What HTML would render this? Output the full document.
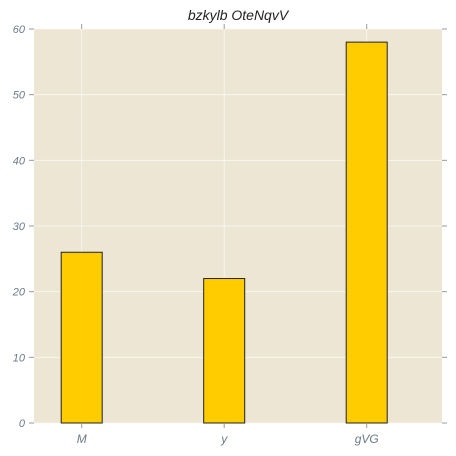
<!DOCTYPE html>
<html><head><meta charset="utf-8"><style>
html,body{margin:0;padding:0;background:#fff;width:456px;height:456px;overflow:hidden}
text{font-family:"Liberation Sans",sans-serif}
</style></head><body>
<svg id="chart" width="456" height="456" xmlns="http://www.w3.org/2000/svg">
<rect x="34" y="29" width="408" height="394" fill="#ede6d5"/>
<g id="grid"></g>
<g id="bars"></g>
<g id="axes"></g>
<text x="238" y="20" text-anchor="middle" font-size="14" font-style="italic" fill="#222">bzkylb OteNqvV</text>
</svg>
<script>
const categories = ["M", "y", "gVG"];
const values = [26, 22, 58];
const yTicks = [0, 10, 20, 30, 40, 50, 60];

const L = 34, R = 442, T = 29, B = 423;
const yMax = 60;
function y(v){ return B - (v / yMax) * (B - T); }
const step = 142.5, first = 81.7, barW = 41;
function x(i){ return first + i * step; }
const NS = "http://www.w3.org/2000/svg";
function mk(tag, attrs, parent){
  const e = document.createElementNS(NS, tag);
  for (const k in attrs) e.setAttribute(k, attrs[k]);
  parent.appendChild(e);
  return e;
}
const grid = document.getElementById('grid');
const bars = document.getElementById('bars');
const axes = document.getElementById('axes');
yTicks.forEach(t => {
  const yy = y(t);
  const g = mk('line', {x1: L, x2: R, y1: yy, y2: yy, stroke: '#fbf8f2', 'stroke-width': 0.8}, grid);
  
  
  const tl = mk('line', {x1: L - 5, x2: L, y1: yy, y2: yy, stroke: '#999'}, axes);
  
  
  const tr = mk('line', {x1: R, x2: R + 5, y1: yy, y2: yy, stroke: '#999'}, axes);
  
  
  const lb = mk('text', {x: L - 9, y: yy + 4, 'text-anchor': 'end', 'font-size': 11, 'font-style': 'italic', fill: '#6b7a88'}, axes);
  lb.textContent = t;
  
  
});
categories.forEach((c, i) => {
  const cx = x(i);
  const g = mk('line', {x1: cx, x2: cx, y1: T, y2: B, stroke: '#fbf8f2', 'stroke-width': 0.8}, grid);
  
  
  const b = mk('rect', {x: cx - barW / 2, y: y(values[i]), width: barW, height: B - y(values[i]), fill: '#ffcc00', stroke: '#222', 'stroke-width': 1}, bars);
  
  
  const tb = mk('line', {x1: cx, x2: cx, y1: B, y2: B + 5, stroke: '#999'}, axes);
  
  
  const tt = mk('line', {x1: cx, x2: cx, y1: T - 5, y2: T, stroke: '#999'}, axes);
  
  
  const lb = mk('text', {x: cx, y: B + 20, 'text-anchor': 'middle', 'font-size': 12, 'font-style': 'italic', fill: '#6b7a88'}, axes);
  lb.textContent = c;
  
  
});
</script>
</body></html>
